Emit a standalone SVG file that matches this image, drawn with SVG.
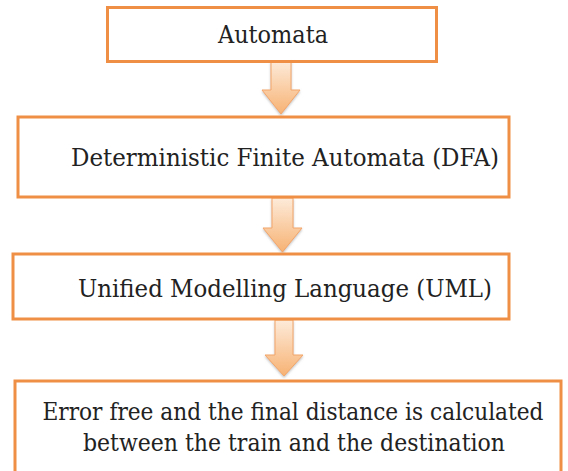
<svg xmlns="http://www.w3.org/2000/svg" width="568" height="471" viewBox="0 0 568 471">
<defs>
<linearGradient id="ag" x1="0" y1="0" x2="0" y2="1">
<stop offset="0" stop-color="#FDEBDA"/>
<stop offset="1" stop-color="#F7B273"/>
</linearGradient>
<filter id="sh" x="-30%" y="-30%" width="160%" height="160%">
<feDropShadow dx="0" dy="1.5" stdDeviation="1.2" flood-color="#888" flood-opacity="0.5"/>
</filter>
</defs>
<style>
.box{fill:#ffffff;stroke:#EF8F45;stroke-width:3}
.t{font-family:"DejaVu Serif","Liberation Serif",serif;font-size:22px;fill:#222222;text-anchor:middle}
.arr{fill:url(#ag);stroke:#F3A66A;stroke-width:1;filter:url(#sh)}
</style>
<rect width="568" height="471" fill="#ffffff"/>
<g id="connectors">
<path class="arr" d="M271,61 H291 V90 H300 L281,114 L262,90 H271 Z"/>
<path class="arr" d="M272,198 H293 V228 H302 L282.5,252 L263,228 H272 Z"/>
<path class="arr" d="M275,320 H293 V355 H303 L284,376 L265,355 H275 Z"/>
</g>
<g id="n1">
<rect class="box" x="107.5" y="7.5" width="329" height="54"/>
<text class="t" transform="scale(1,1.1)" x="273" y="39.09" textLength="110" lengthAdjust="spacingAndGlyphs">Automata</text>
</g>
<g id="n2">
<rect class="box" x="18" y="117" width="491" height="80"/>
<text class="t" transform="scale(1,1.1)" x="285" y="150.91" textLength="428" lengthAdjust="spacingAndGlyphs">Deterministic Finite Automata (DFA)</text>
</g>
<g id="n3">
<rect class="box" x="13" y="254" width="496" height="65"/>
<text class="t" transform="scale(1,1.1)" x="285" y="270" textLength="414" lengthAdjust="spacingAndGlyphs">Unified Modelling Language (UML)</text>
</g>
<g id="n4">
<rect class="box" x="15" y="381" width="546" height="100"/>
<text class="t" transform="scale(1,1.1)" x="293" y="381.82" textLength="501" lengthAdjust="spacingAndGlyphs">Error free and the final distance is calculated</text>
<text class="t" transform="scale(1,1.1)" x="294" y="410" textLength="422" lengthAdjust="spacingAndGlyphs">between the train and the destination</text>
</g>
</svg>
